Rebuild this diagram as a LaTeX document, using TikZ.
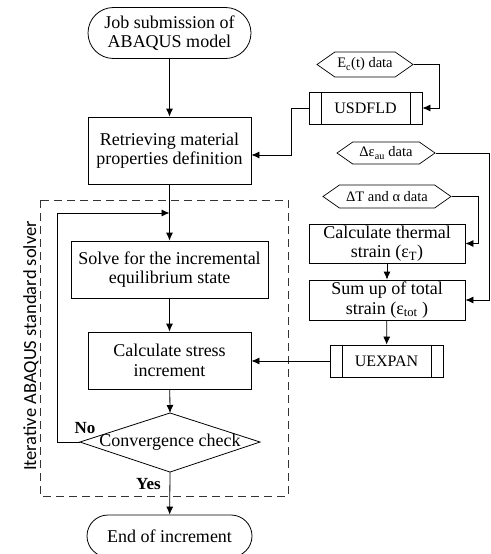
\documentclass[tikz,border=0pt]{standalone}
\usepackage{fontspec}
\setmainfont{Liberation Serif}
\newfontfamily\sidefont{Carlito}
\usetikzlibrary{arrows.meta,shapes.misc,shapes.symbols,calc}

\begin{document}
\begin{tikzpicture}[x=1pt,y=-1pt,
  every node/.style={align=center, inner sep=0pt},
  txt/.style={font=\fontsize{18}{19.5}\selectfont},
  proc/.style={txt, draw, rectangle, line width=0.8pt},
  term/.style={txt, draw, rounded rectangle, line width=0.8pt},
  subr/.style={draw, rectangle, line width=0.8pt, font=\fontsize{16}{18}\selectfont},
  hexa/.style={draw, signal, signal to=west and east, signal pointer angle=70,
               font=\fontsize{14.5}{16}\selectfont, line width=0.7pt},
  arr/.style={-{Latex[length=8pt,width=7pt]}, line width=0.8pt},
  lab/.style={font=\fontsize{17}{18}\selectfont\bfseries}
]
\useasboundingbox (0,0) rectangle (490,554);

% left column
\node[term, minimum width=163, minimum height=51] (start) at (169.5,33) {Job submission of\\ABAQUS model};
\node[proc, minimum width=163, minimum height=67] (ret) at (169.5,150.5) {Retrieving material\\properties definition};
\node[proc, minimum width=197, minimum height=57] (solve) at (169.5,269.5) {Solve for the incremental\\equilibrium state};
\node[proc, minimum width=163, minimum height=57] (stress) at (169.5,360.5) {Calculate stress\\increment};
\node[txt] (conv) at (170,442) {Convergence check};
\coordinate (convL) at (80,442);
\coordinate (convR) at (260,442);
\coordinate (convT) at (170,413);
\coordinate (convB) at (170,472);
\draw[line width=0.8pt] (convL) -- (convT) -- (convR) -- (convB) -- cycle;
\node[term, minimum width=165, minimum height=42] (end) at (169.5,536) {End of increment};

% dashed solver frame and label
\draw[dash pattern=on 8pt off 5pt, line width=0.8pt, black!80] (40,200) rectangle (288,496);
\node[rotate=90, font=\sidefont\fontsize{18.5}{20}\selectfont] (solver) at (31,346) {Iterative ABAQUS standard solver};

% right column
\node[hexa, minimum width=96, minimum height=25] (ec) at (365,64.5) {E\textsubscript{c}(t) data};
\node[subr, minimum width=113, minimum height=32] (usd) at (365.5,108) {USDFLD};
\node[hexa, minimum width=98, minimum height=22] (dea) at (386,153) {Δε\textsubscript{au} data};
\node[hexa, minimum width=128, minimum height=23] (dT) at (387,196.5) {ΔT and α data};
\node[proc, minimum width=156, minimum height=39] (therm) at (387,243.5) {Calculate thermal\\strain (ε\textsubscript{T})};
\node[proc, minimum width=156, minimum height=40] (sum) at (387,300) {Sum up of total\\strain (ε\textsubscript{tot} )};
\node[subr, minimum width=113, minimum height=32] (uexp) at (386.5,361) {UEXPAN};

\foreach \n in {usd,uexp}{
  \draw[line width=0.8pt] ($(\n.north west)+(13,0)$) -- ($(\n.south west)+(13,0)$);
  \draw[line width=0.8pt] ($(\n.north east)+(-12.5,0)$) -- ($(\n.south east)+(-12.5,0)$);
}

% labels
\node[lab] (no) at (85,428) {No};
\node[lab] (yes) at (148.5,484) {Yes};

% connectors
\coordinate (loopTop) at (169.5,213);
\coordinate (loopC) at (57,213);
\draw[arr] (start) -- (ret);
\draw[arr] (ret) -- (solve);
\draw[arr] (solve) -- (stress);
\draw[arr] (stress) -- (convT);
\draw[arr] (convB) -- (end);
\draw[arr] (convL) -| (loopC) -- (loopTop);

\draw[arr] (ec.east) -- ++(26,0) |- (usd.east);
\draw[arr] (usd.west) -- ++(-17,0) |- ($(ret.east)+(0,4.5)$);
\draw[arr] (dea.east) -- (489,153) |- (sum.east);
\draw[arr] (dT.east) -- (478,196.5) |- (therm.east);
\draw[arr] (therm) -- (sum);
\draw[arr] (sum) -- (uexp);
\draw[arr] (uexp.west) -- (uexp.west -| stress.east);
\end{tikzpicture}
\end{document}
